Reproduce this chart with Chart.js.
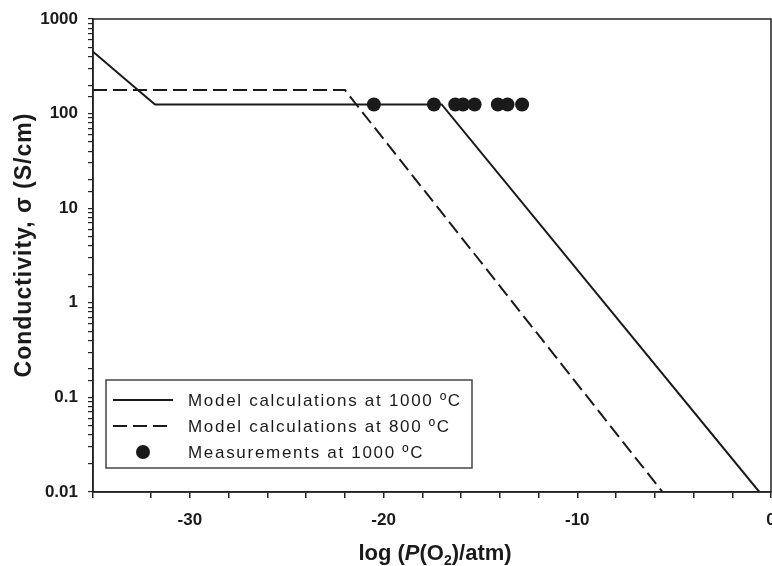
<!DOCTYPE html>
<html>
<head>
<meta charset="utf-8">
<script src="https://cdn.jsdelivr.net/npm/chart.js@4/dist/chart.umd.min.js"></script>
<style>
html,body{margin:0;padding:0;background:#fff;}
#wrap{width:772px;height:566px;}
</style>
</head>
<body>
<div id="wrap"><canvas id="c" width="772" height="566"></canvas></div>
<script>
// Data
const model1000X = [-35, -31.8, -17.0, -0.6];
const model1000Y = [450, 125, 125, 0.01];
const model800X = [-35, -22.0, -5.6];
const model800Y = [178, 178, 0.01];
const measX = [-20.5, -17.4, -16.3, -15.9, -15.3, -14.1, -13.6, -12.85];
const measY = [125, 125, 125, 125, 125, 125, 125, 125];
const xTickLabels = [-30, -20, -10, 0];
const yTickLabels = [0.01, 0.1, 1, 10, 100, 1000];
const seriesLabels = ['Model calculations at 1000 ºC', 'Model calculations at 800 ºC', 'Measurements at 1000 ºC'];

const toPts = (xs, ys) => xs.map((x, i) => ({x: x, y: ys[i]}));
const FONT = '"Liberation Sans", Arial, sans-serif';
const INK = '#1a1a1a';

const decor = {
  id: 'decor',
  afterDraw(chart) {
    const ctx = chart.ctx;
    const a = chart.chartArea;
    ctx.save();
    // frame
    ctx.strokeStyle = '#222';
    ctx.lineWidth = 1.5;
    ctx.strokeRect(a.left, a.top, a.right - a.left, a.bottom - a.top);

    // legend box
    const lx = 106, ly = 380, lw = 366, lh = 88;
    ctx.fillStyle = '#fff';
    ctx.fillRect(lx, ly, lw, lh);
    ctx.strokeStyle = '#444';
    ctx.lineWidth = 1.5;
    ctx.strokeRect(lx, ly, lw, lh);
    const rows = [400, 426, 452];
    chart.data.datasets.forEach((ds, i) => {
      const y = rows[i];
      ctx.strokeStyle = INK;
      ctx.fillStyle = INK;
      if (ds.showLine === false) {
        ctx.beginPath();
        ctx.arc(143, y, 7, 0, Math.PI * 2);
        ctx.fill();
      } else {
        ctx.lineWidth = 2;
        ctx.setLineDash(ds.borderDash || []);
        ctx.beginPath();
        ctx.moveTo(113, y);
        ctx.lineTo(173, y);
        ctx.stroke();
        ctx.setLineDash([]);
      }
      ctx.font = '17px ' + FONT;
      ctx.letterSpacing = '1.7px';
      ctx.textBaseline = 'middle';
      ctx.textAlign = 'left';
      ctx.fillText(ds.label, 188, y + 1);
      ctx.letterSpacing = '0px';
    });

    // x-axis title: log (P(O2)/atm)
    ctx.fillStyle = INK;
    ctx.textBaseline = 'alphabetic';
    ctx.textAlign = 'left';
    const parts = [
      {t: 'log (', f: 'bold 22px ' + FONT, dy: 0},
      {t: 'P', f: 'italic bold 22px ' + FONT, dy: 0},
      {t: '(O', f: 'bold 22px ' + FONT, dy: 0},
      {t: '2', f: 'bold 14px ' + FONT, dy: 5},
      {t: ')/atm)', f: 'bold 22px ' + FONT, dy: 0}
    ];
    let total = 0;
    parts.forEach(p => { ctx.font = p.f; total += ctx.measureText(p.t).width; });
    let x = 435 - total / 2;
    const by = 560;
    parts.forEach(p => { ctx.font = p.f; ctx.fillText(p.t, x, by + p.dy); x += ctx.measureText(p.t).width; });

    // y-axis title
    ctx.save();
    ctx.translate(31, 245);
    ctx.rotate(-Math.PI / 2);
    ctx.font = 'bold 23px ' + FONT;
    ctx.letterSpacing = '1px';
    ctx.textAlign = 'center';
    ctx.textBaseline = 'alphabetic';
    ctx.fillText('Conductivity, σ (S/cm)', 0, 0);
    ctx.restore();

    ctx.restore();
  }
};

new Chart(document.getElementById('c'), {
  type: 'scatter',
  data: {
    datasets: [
      {label: seriesLabels[0], data: toPts(model1000X, model1000Y), showLine: true,
       borderColor: INK, borderWidth: 2, pointRadius: 0, fill: false},
      {label: seriesLabels[1], data: toPts(model800X, model800Y), showLine: true,
       borderColor: INK, borderWidth: 2, borderDash: [14, 6], pointRadius: 0, fill: false},
      {label: seriesLabels[2], data: toPts(measX, measY), showLine: false,
       backgroundColor: INK, borderColor: INK, pointRadius: 7, pointBorderWidth: 0}
    ]
  },
  options: {
    responsive: false,
    animation: false,
    layout: {autoPadding: false, padding: {top: 19, right: 1, left: 0, bottom: 0}},
    plugins: {legend: {display: false}, tooltip: {enabled: false}},
    scales: {
      x: {
        type: 'linear', min: -35, max: 0,
        afterFit: s => { s.height = 74; s.paddingRight = 0; s.paddingLeft = 0; },
        ticks: {
          stepSize: 2, autoSkip: false, maxRotation: 0, color: INK, padding: 12,
          font: {family: FONT, size: 17, weight: 'bold'},
          callback: v => xTickLabels.includes(v) ? String(v) : ''
        },
        grid: {drawOnChartArea: false, tickLength: 6, color: '#222', lineWidth: 1.5},
        border: {display: true, color: '#222', width: 1.5}
      },
      y: {
        type: 'logarithmic', min: 0.01, max: 1000,
        afterFit: s => { s.width = 93; s.paddingTop = 0; s.paddingBottom = 0; },
        ticks: {
          autoSkip: false, color: INK, padding: 10,
          font: {family: FONT, size: 17, weight: 'bold'},
          callback: v => {
            const hit = yTickLabels.find(t => Math.abs(t - v) / t < 1e-6);
            return hit !== undefined ? String(hit) : '';
          }
        },
        grid: {drawOnChartArea: false, tickLength: 5, color: '#222', lineWidth: 1.2},
        border: {display: true, color: '#222', width: 1.5}
      }
    }
  },
  plugins: [decor]
});
</script>
</body>
</html>
